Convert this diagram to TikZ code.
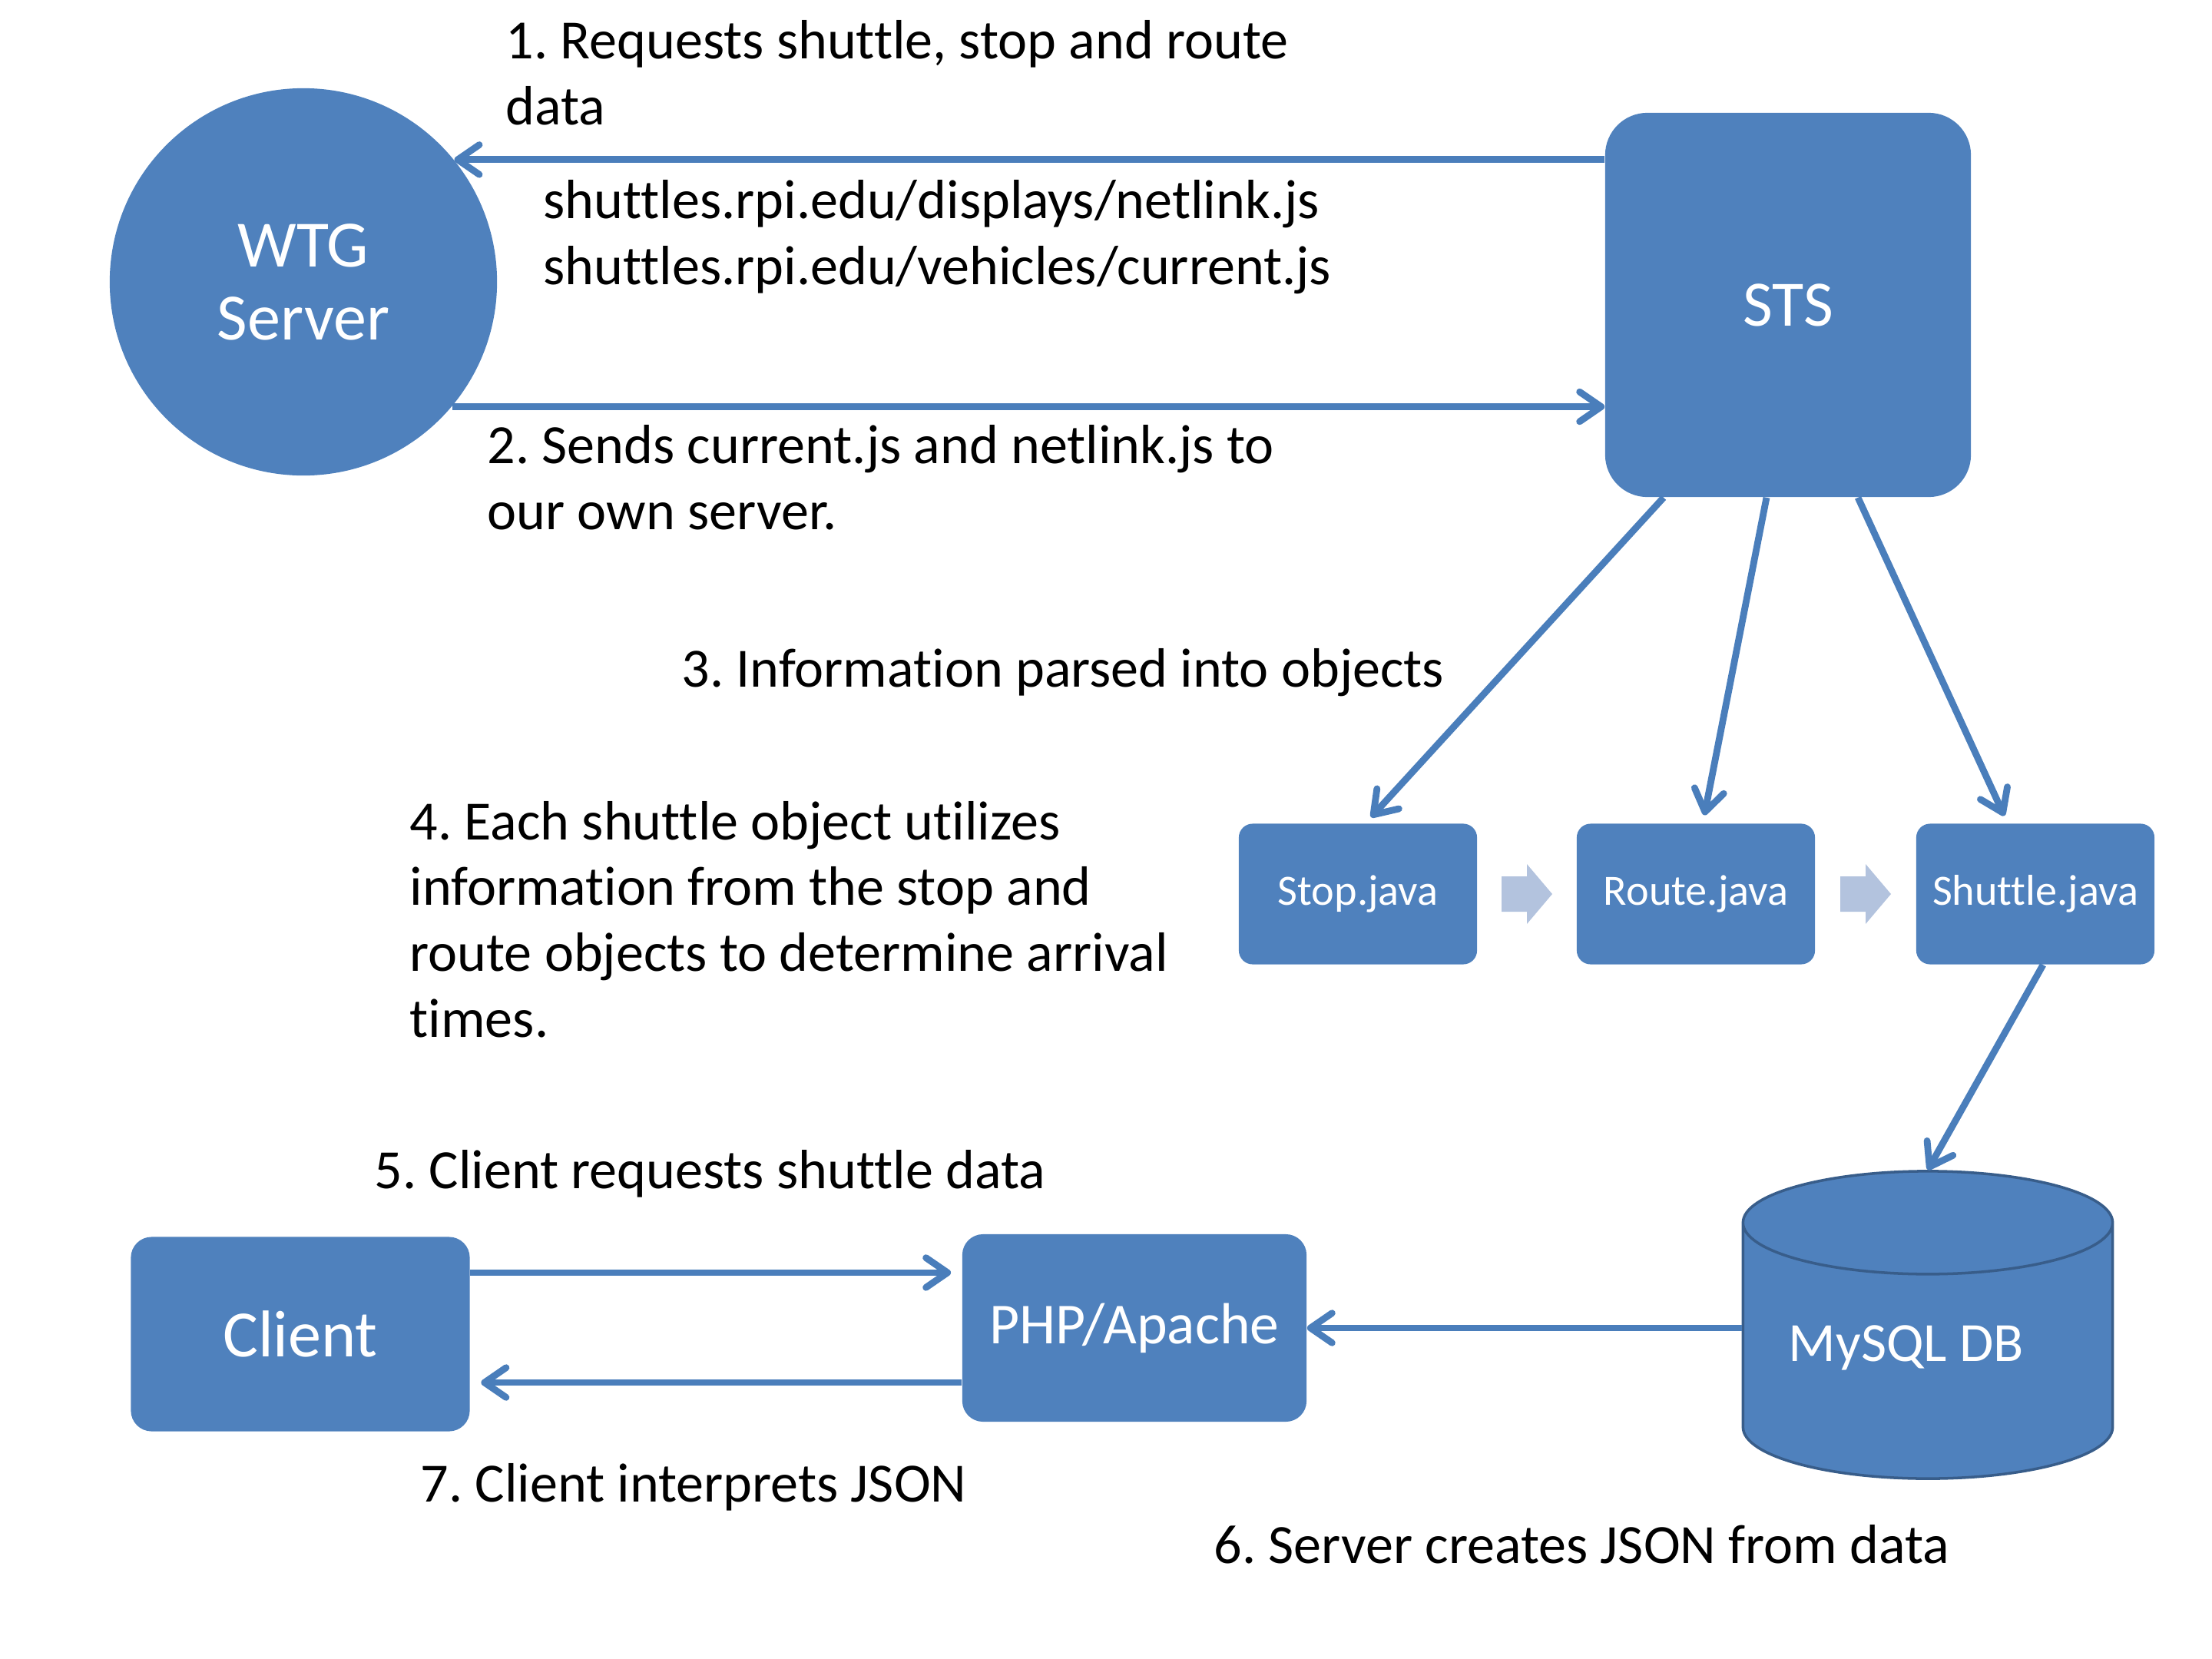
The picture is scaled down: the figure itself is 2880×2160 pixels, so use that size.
\documentclass[tikz,border=0pt]{standalone}
\usepackage{fontspec}
\setmainfont{Carlito}[Ligatures=NoCommon]
\usepackage{xcolor}
\usetikzlibrary{shapes.geometric, arrows.meta, calc}
\definecolor{bluBox}{HTML}{4F81BD}
\definecolor{bluBordo}{HTML}{385D8A}
\definecolor{bluFreccia}{HTML}{4A7EBB}
\definecolor{bluChiaro}{HTML}{B3C3DE}
\frenchspacing
\newcommand{\testo}{\fontsize{20.5}{24.4}\selectfont}
\newcommand{\testoBox}{\fontsize{24.5}{27}\selectfont}
\newcommand{\testoJava}{\fontsize{16}{19}\selectfont}
\tikzset{
  blocco/.style = {rectangle, fill=bluBox, text=white, inner sep=0pt, align=center, font=\testoBox},
  java/.style = {blocco, rounded corners=0.18cm, minimum width=3.1cm, minimum height=1.83cm, font=\testoJava},
  freccia/.style = {draw=bluFreccia, line width=2.5pt, -{Straight Barb[length=8pt, width=11pt, round]}},
  etichetta/.style = {anchor=west, inner sep=0pt, align=left, font=\testo},
}

\begin{document}
\begin{tikzpicture}[x=0.01cm, y=-0.01cm]
    \useasboundingbox (0,0) rectangle (2880,2160);
    % Nodi
    \node[blocco, circle, minimum size=5.04cm] (wtg) at (395,367) {WTG\\Server};
    \node[blocco, rounded corners=0.55cm, minimum width=4.76cm, minimum height=5cm, font=\fontsize{24}{27}\selectfont] (sts) at (2328,397) {STS};
    \node[java] (stop) at (1768,1164) {Stop.java};
    \node[java] (route) at (2208,1164) {Route.java};
    \node[java] (shuttle) at (2650,1164) {Shuttle.java};
    \node[blocco, rounded corners=0.27cm, minimum width=4.41cm, minimum height=2.53cm] (client) at (391,1737) {Client};
    \node[blocco, rounded corners=0.27cm, minimum width=4.48cm, minimum height=2.44cm, font=\fontsize{21.5}{26}\selectfont] (php) at (1477,1729) {PHP/Apache};
    \node[blocco, cylinder, shape border rotate=90, aspect=0.37, draw=bluBordo, line width=1pt, anchor=shape center,
          minimum width=4.81cm, minimum height=4cm, font=\fontsize{20.5}{24}\selectfont] (db) at (2510,1725)
          {\raisebox{0.2cm}{MySQL DB\hspace*{0.56cm}}};
    % Frecce
    \draw[freccia] (wtg.39 -| sts.west) -- (wtg.39);
    \draw[freccia] (wtg.-40) -- (wtg.-40 -| sts.west);
    \draw[freccia, shorten >=3pt] ([xshift=-1.62cm]sts.south) -- ([xshift=0.1cm]stop.north);
    \draw[freccia, shorten >=3pt] ([xshift=-0.28cm]sts.south) -- ([xshift=0.09cm]route.north);
    \draw[freccia, shorten >=3pt] ([xshift=0.91cm]sts.south) -- ([xshift=-0.36cm]shuttle.north);
    \draw[freccia] ([xshift=0.1cm]shuttle.south) -- (db.north);
    \draw[freccia] (db.west |- php.east) -- (php.east);
    \coordinate (va) at ([yshift=0.8cm]client.east);
    \coordinate (torna) at ([yshift=-0.71cm]php.west);
    \draw[freccia, shorten >=4pt] (va) -- (va -| php.west);
    \draw[freccia, shorten >=4pt] (torna) -- (torna -| client.east);
    \foreach \a/\b in {stop/route, route/shuttle}
      \fill[bluChiaro] ($(\a.east)!0.5!(\b.west)$) ++(-33,23) -- ++(33,0) -- ++(0,16) -- ++(33,-39)
        -- ++(-33,-39) -- ++(0,16) -- ++(-33,0) -- cycle;
    % Testi
    \node[etichetta] (t1) at (658,95) {1. Requests shuttle, stop and route\\data};
    \node[etichetta] (url) at (707,309) {shuttles.rpi.edu/displays/netlink.js\\shuttles.rpi.edu/vehicles/current.js};
    \node[etichetta] (t2) at (634,622) {2. Sends current.js and netlink.js to\\our own server.};
    \node[etichetta] (t3) at (887,876) {3. Information parsed into objects};
    \node[etichetta] (t4) at (533,1197) {4. Each shuttle object utilizes\\information from the stop and\\route objects to determine arrival\\times.};
    \node[etichetta] (t5) at (487,1528) {5. Client requests shuttle data};
    \node[etichetta] (t7) at (547,1936) {7. Client interprets JSON};
    \node[etichetta] (t6) at (1580,2011) {6. Server creates JSON from data};
\end{tikzpicture}
\end{document}
